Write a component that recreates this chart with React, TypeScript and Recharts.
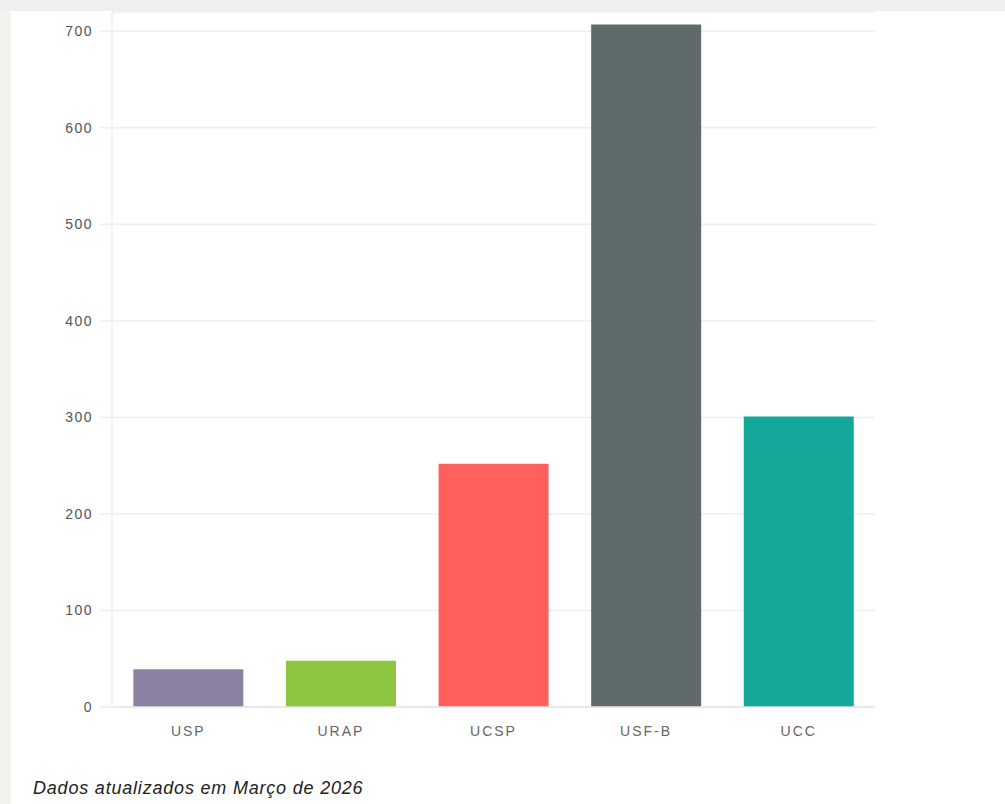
import React from 'react';
import { BarChart, Bar, XAxis, YAxis, CartesianGrid, Cell } from 'recharts';

const categories = ['USP', 'URAP', 'UCSP', 'USF-B', 'UCC'];
const values = [39, 48, 252, 707, 301];
const colors = ['#8b82a2', '#8cc63f', '#ff5f5d', '#5f6a6b', '#14a89b'];
const yTicks = [0, 100, 200, 300, 400, 500, 600, 700];
const caption = 'Dados atualizados em Março de 2026';

const data = categories.map((name, i) => ({ name, value: values[i] }));

export default function App() {
  return (
    <div style={{ position: 'fixed', left: 0, top: 0, width: 1005, height: 804, background: '#ffffff', overflow: 'hidden' }}>
      <div style={{ position: 'absolute', left: 0, top: 0 }}>
        <BarChart
          width={1005}
          height={760}
          data={data}
          margin={{ top: 12, right: 130, bottom: 23, left: 0 }}
          barCategoryGap="14%"
        >
          <CartesianGrid vertical={false} stroke="#eeeeee" strokeWidth={1.5} />
          <XAxis
            dataKey="name"
            axisLine={{ stroke: '#e6e6e6', strokeWidth: 1.5 }}
            tickLine={false}
            tickSize={0}
            tickMargin={19}
            height={30}
            tick={{ fill: '#666666', fontSize: 14, fontFamily: 'Liberation Sans, Arial, sans-serif', letterSpacing: 2 }}
          />
          <YAxis
            domain={[0, 720]}
            ticks={yTicks}
            width={112}
            axisLine={{ stroke: '#eeeeee', strokeWidth: 1.5 }}
            tickLine={{ stroke: '#eeeeee', strokeWidth: 1.5 }}
            tickSize={12}
            tickMargin={7}
            tick={{ fill: '#555555', fontSize: 14, fontFamily: 'Liberation Sans, Arial, sans-serif', letterSpacing: 1.5 }}
          />
          <Bar dataKey="value" isAnimationActive={false}>
            {data.map((d, i) => (
              <Cell key={d.name} fill={colors[i]} />
            ))}
          </Bar>
        </BarChart>
      </div>
      <div style={{ position: 'absolute', left: 0, top: 0, width: 11, height: 804, background: '#f3f2ee' }} />
      <div style={{ position: 'absolute', left: 0, top: 0, width: 1005, height: 11, background: '#efefef', zIndex: 10 }} />
      <div
        style={{
          position: 'absolute',
          left: 33,
          top: 778,
          fontFamily: 'Liberation Sans, Arial, sans-serif',
          fontStyle: 'italic',
          fontSize: 18,
          letterSpacing: 0.8,
          color: '#222222',
          whiteSpace: 'nowrap',
        }}
      >
        {caption}
      </div>
    </div>
  );
}
